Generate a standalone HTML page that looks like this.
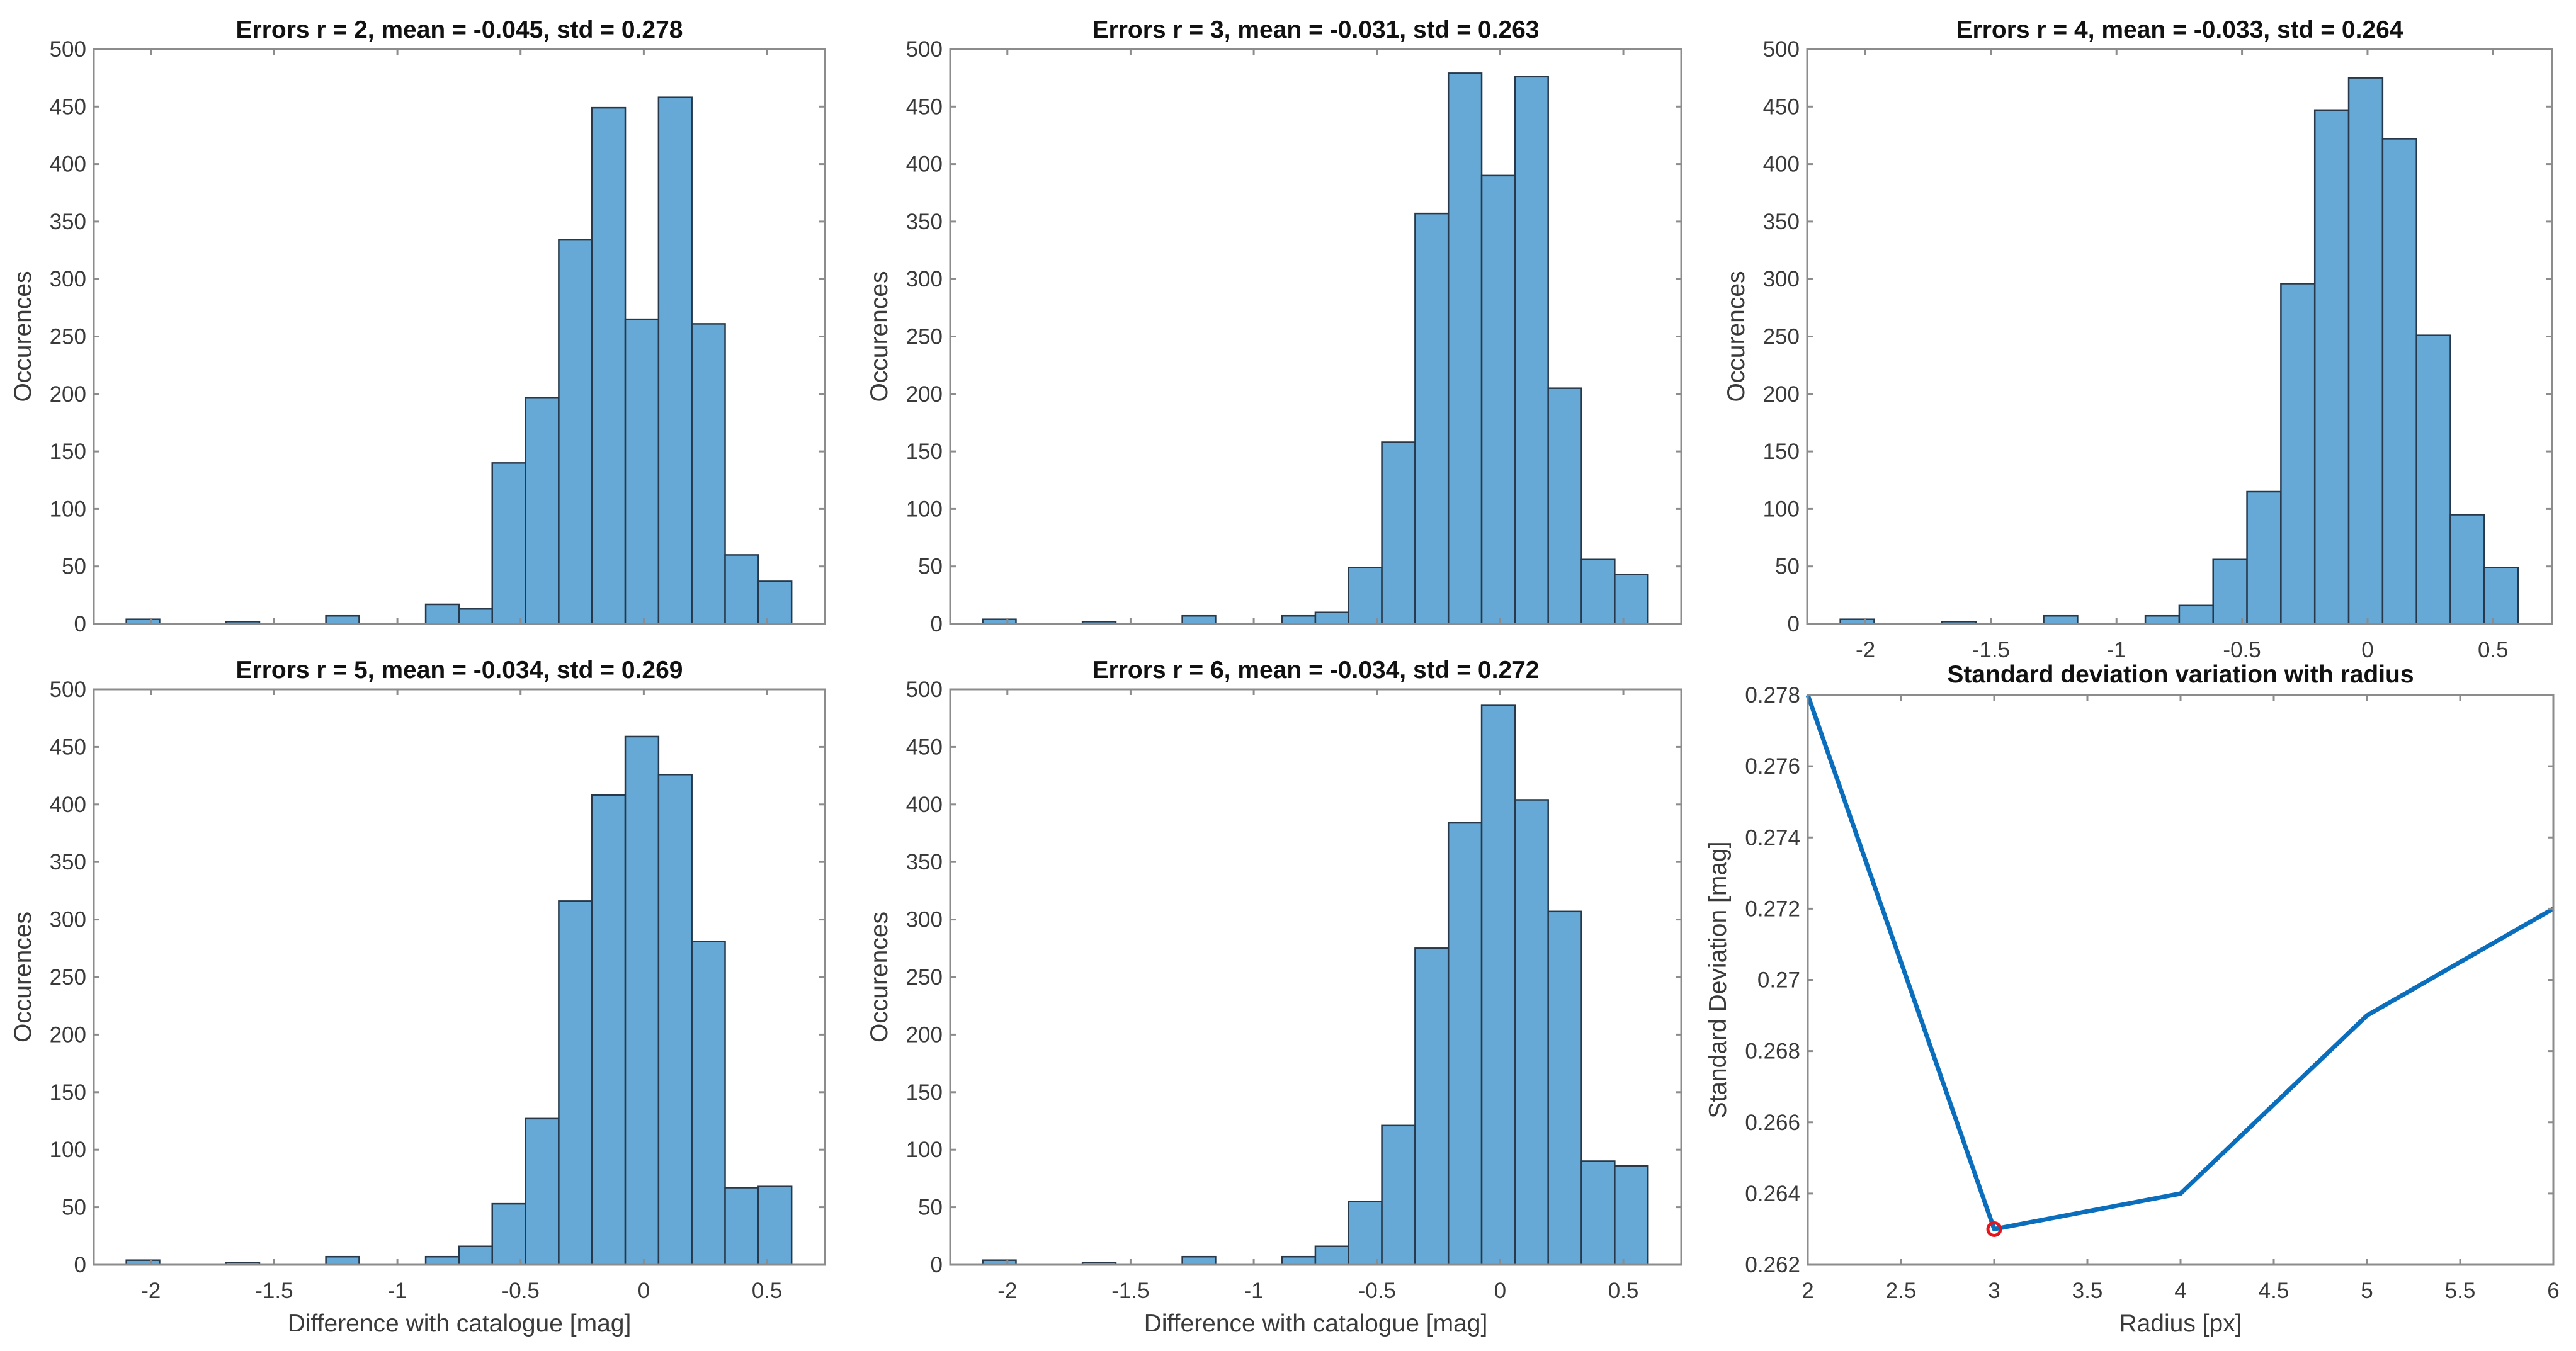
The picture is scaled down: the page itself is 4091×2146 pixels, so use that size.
<!DOCTYPE html>
<html><head><meta charset="utf-8"><style>
html,body{margin:0;padding:0;background:#fff;}
svg{display:block;font-family:"Liberation Sans",Arial,sans-serif;}
</style></head><body>
<svg id="fig" width="4091" height="2146" viewBox="0 0 4091 2146" xmlns="http://www.w3.org/2000/svg"></svg>
<script>
const binStart = -2.1;
const binWidth = 0.135;
const histTitles = [
 "Errors r = 2, mean = -0.045, std = 0.278",
 "Errors r = 3, mean = -0.031, std = 0.263",
 "Errors r = 4, mean = -0.033, std = 0.264",
 "Errors r = 5, mean = -0.034, std = 0.269",
 "Errors r = 6, mean = -0.034, std = 0.272"];
const countsR2 = [4,0,0,2,0,0,7,0,0,17,13,140,197,334,449,265,458,261,60,37];
const countsR3 = [4,0,0,2,0,0,7,0,0,7,10,49,158,357,479,390,476,205,56,43];
const countsR4 = [4,0,0,2,0,0,7,0,0,7,16,56,115,296,447,475,422,251,95,49];
const countsR5 = [4,0,0,2,0,0,7,0,0,7,16,53,127,316,408,459,426,281,67,68];
const countsR6 = [4,0,0,2,0,0,7,0,0,7,16,55,121,275,384,486,404,307,90,86];
const histXTicks = [-2,-1.5,-1,-0.5,0,0.5];
const histXTickLabels = ["-2","-1.5","-1","-0.5","0","0.5"];
const histYTicks = [0,50,100,150,200,250,300,350,400,450,500];
const radii = [2,3,4,5,6];
const stdValues = [0.278,0.263,0.264,0.269,0.272];
const stdXTicks = [2,2.5,3,3.5,4,4.5,5,5.5,6];
const stdXTickLabels = ["2","2.5","3","3.5","4","4.5","5","5.5","6"];
const stdYTicks = [0.262,0.264,0.266,0.268,0.27,0.272,0.274,0.276,0.278];
const stdYTickLabels = ["0.262","0.264","0.266","0.268","0.27","0.272","0.274","0.276","0.278"];

const NS="http://www.w3.org/2000/svg";
const svg=document.getElementById('fig');
function mk(tag,attrs,parent){const e=document.createElementNS(NS,tag);for(const k in attrs)e.setAttribute(k,attrs[k]);(parent||svg).appendChild(e);return e;}
function txt(s,attrs,parent){const e=mk('text',attrs,parent);e.textContent=s;return e;}

const TXT="#3a3a3a", BOX="#8c8c8c";
const TF=35, LF=39, HF=39;

function axesFrame(g,L,R,T,B,xs,ys,xt,xtl,yt,ytl,showX){
  mk('rect',{x:L,y:T,width:R-L,height:B-T,fill:'#fff',stroke:'none'},g);
  return function(){
    for(let i=0;i<xt.length;i++){const x=xs(xt[i]);
      mk('line',{x1:x,y1:B,x2:x,y2:B-9,stroke:BOX,'stroke-width':3},g);
      mk('line',{x1:x,y1:T,x2:x,y2:T+9,stroke:BOX,'stroke-width':3},g);
      if(showX){const t=txt(xtl[i],{x:x,y:B+53,'font-size':TF,fill:TXT,'text-anchor':'middle'},g);
        
        }
    }
    for(let i=0;i<yt.length;i++){const y=ys(yt[i]);
      mk('line',{x1:L,y1:y,x2:L+9,y2:y,stroke:BOX,'stroke-width':3},g);
      mk('line',{x1:R,y1:y,x2:R-9,y2:y,stroke:BOX,'stroke-width':3},g);
      const t=txt(ytl[i],{x:L-12,y:y+12,'font-size':TF,fill:TXT,'text-anchor':'end'},g);
      
      
    }
    mk('rect',{x:L,y:T,width:R-L,height:B-T,fill:'none',stroke:BOX,'stroke-width':3},g);
  };
}

const cols=[[149,1310],[1509,2670],[2870,4053]];
const rows=[[78,991],[1095,2009]];
const allCounts=[countsR2,countsR3,countsR4,countsR5,countsR6];
const pos=[[0,0],[1,0],[2,0],[0,1],[1,1]];
const xMin=-2.232,xMax=0.735;

for(let p=0;p<5;p++){
  const [L,R]=cols[pos[p][0]],[T,B]=rows[pos[p][1]];
  const g=mk('g',{});
  
  
  const xs=v=>L+(v-xMin)/(xMax-xMin)*(R-L);
  const ys=v=>B-v/500*(B-T);
  const showX=(p>=2);
  const finish=axesFrame(g,L,R,T,B,xs,ys,histXTicks,histXTickLabels,histYTicks,histYTicks.map(String),showX);
  const counts=allCounts[p];
  for(let i=0;i<counts.length;i++){
    if(counts[i]<=0)continue;
    const x0=xs(binStart+i*binWidth),x1=xs(binStart+(i+1)*binWidth);
    const r=mk('rect',{x:x0,y:ys(counts[i]),width:x1-x0,height:ys(0)-ys(counts[i]),fill:'#66a9d6',stroke:'#26384a','stroke-width':2.5},g);
    
    
  }
  finish();
  const t=txt(histTitles[p],{x:(L+R)/2,y:T-18,'font-size':HF,'font-weight':'bold',fill:'#111','text-anchor':'middle'},g);
  
  
  const yl=txt('Occurences',{x:0,y:0,'font-size':LF,fill:TXT,'text-anchor':'middle',transform:`translate(${L-100},${(T+B)/2}) rotate(-90)`},g);
  
  
  if(pos[p][1]===1){
    const xl=txt('Difference with catalogue [mag]',{x:(L+R)/2,y:B+106,'font-size':LF,fill:TXT,'text-anchor':'middle'},g);
    
    
  }
}

// std line chart
{
  const L=2871,R=4055,T=1104,B=2009;
  const g=mk('g',{});
  
  
  const xs=v=>L+(v-2)/4*(R-L);
  const ys=v=>B-(v-0.262)/0.016*(B-T);
  const finish=axesFrame(g,L,R,T,B,xs,ys,stdXTicks,stdXTickLabels,stdYTicks,stdYTickLabels,true);
  const pts=radii.map((r,i)=>xs(r)+','+ys(stdValues[i])).join(' ');
  const line=mk('polyline',{points:pts,fill:'none',stroke:'#0a6ebd','stroke-width':7,'stroke-linejoin':'round'},g);
  
  
  let mi=0;for(let i=1;i<stdValues.length;i++)if(stdValues[i]<stdValues[mi])mi=i;
  const c=mk('circle',{cx:xs(radii[mi]),cy:ys(stdValues[mi]),r:10,fill:'none',stroke:'#e8141c','stroke-width':5},g);
  
  
  finish();
  const t=txt('Standard deviation variation with radius',{x:(L+R)/2,y:T-20,'font-size':HF,'font-weight':'bold',fill:'#111','text-anchor':'middle'},g);
  
  
  const yl=txt('Standard Deviation [mag]',{x:0,y:0,'font-size':LF,fill:TXT,'text-anchor':'middle',transform:`translate(${L-130},${(T+B)/2}) rotate(-90)`},g);
  
  
  const xl=txt('Radius [px]',{x:(L+R)/2,y:B+106,'font-size':LF,fill:TXT,'text-anchor':'middle'},g);
  
  
}
</script>
</body></html>
